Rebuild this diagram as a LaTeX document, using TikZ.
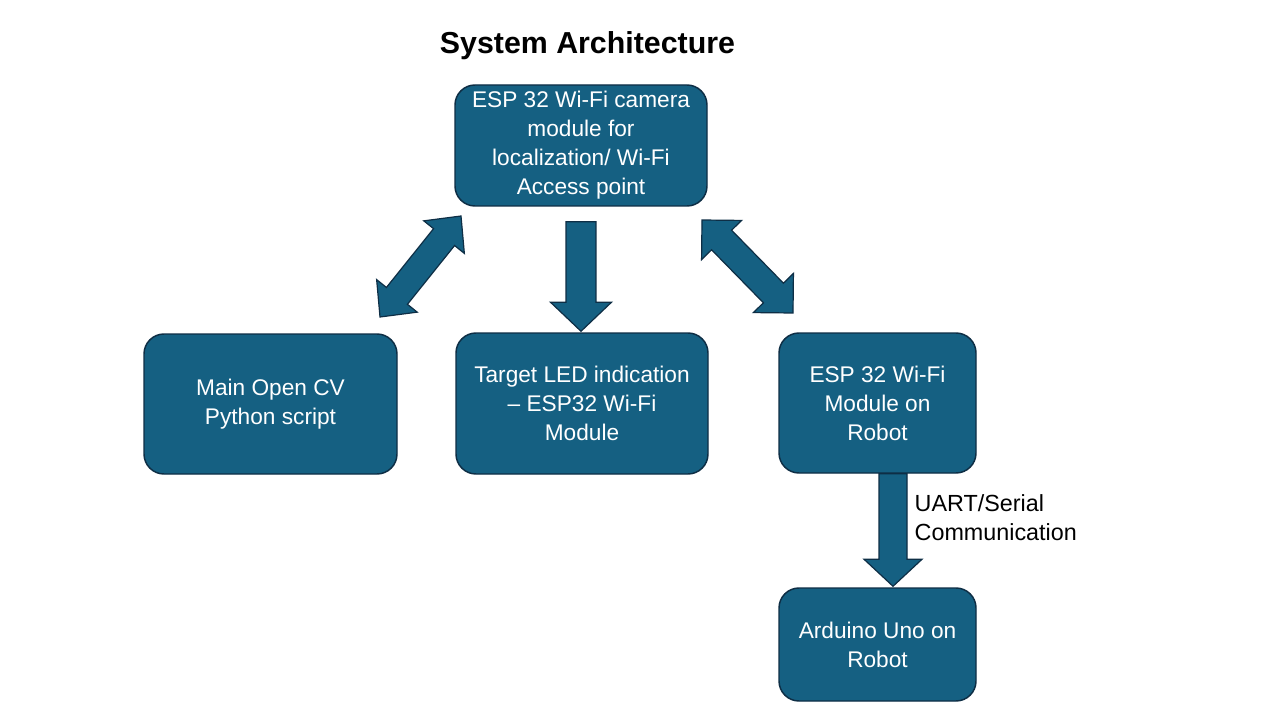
\documentclass[tikz,border=0pt]{standalone}
\usepackage{fontspec}
\setmainfont{Liberation Sans}
\usetikzlibrary{calc}
\definecolor{boxfill}{HTML}{156082}
\definecolor{boxline}{HTML}{0E2E45}
\tikzset{
  blk/.style={draw=boxline, line width=1.1pt, fill=boxfill, rounded corners=15pt,
    text=white, align=center, inner sep=0pt,
    font=\fontsize{17}{21.75}\selectfont},
  arr/.style={draw=boxline, line width=0.9pt, fill=boxfill, line join=miter},
}
\newcommand{\singlearrow}[5]{% tail, tip, w, hw, hl (in pt)
  \path[arr] ($(#1)!#3!90:(#2)$) -- ($($(#2)!#5!(#1)$)!#3!-90:(#1)$)
    -- ($($(#2)!#5!(#1)$)!#4!-90:(#1)$) -- (#2)
    -- ($($(#2)!#5!(#1)$)!#4!90:(#1)$) -- ($($(#2)!#5!(#1)$)!#3!90:(#1)$)
    -- ($(#1)!#3!-90:(#2)$) -- cycle;}
\newcommand{\doublearrow}[5]{% tip1, tip2, w, hw, hl
  \path[arr] (#1) -- ($($(#1)!#5!(#2)$)!#4!90:(#2)$) -- ($($(#1)!#5!(#2)$)!#3!90:(#2)$)
    -- ($($(#2)!#5!(#1)$)!#3!-90:(#1)$) -- ($($(#2)!#5!(#1)$)!#4!-90:(#1)$)
    -- (#2) -- ($($(#2)!#5!(#1)$)!#4!90:(#1)$) -- ($($(#2)!#5!(#1)$)!#3!90:(#1)$)
    -- ($($(#1)!#5!(#2)$)!#3!-90:(#2)$) -- ($($(#1)!#5!(#2)$)!#4!-90:(#2)$) -- cycle;}
\begin{document}
\begin{tikzpicture}[x=0.75pt,y=-0.75pt]
\useasboundingbox[fill=white] (0,0) rectangle (1280,720);

\node[font=\fontsize{22.75}{27}\selectfont\bfseries] (title) at (587.5,46) {System Architecture};

\node[blk, minimum width=189pt, minimum height=90.75pt] (cam) at (581,145.5)
  {ESP 32 Wi-Fi camera\\module for\\localization/ Wi-Fi\\Access point};
\node[blk, minimum width=189.75pt, minimum height=105pt] (cv) at (270.5,404)
  {Main Open CV\\Python script};
\node[blk, minimum width=189pt, minimum height=105.75pt] (led) at (582,403.5)
  {Target LED indication\\– ESP32 Wi-Fi\\Module};
\node[blk, minimum width=147.75pt, minimum height=105pt] (esp) at (877.5,403)
  {ESP 32 Wi-Fi\\Module on\\Robot};
\node[blk, minimum width=147.75pt, minimum height=84.75pt] (uno) at (877.5,644.5)
  {Arduino Uno on\\Robot};

\node[anchor=west, align=left, font=\fontsize{17.5}{21.75}\selectfont] (lbl) at (910,517.5)
  {UART/Serial\\Communication};

% arrow end points
\coordinate (a1) at (380,317);
\coordinate (a2) at (461,216);
\coordinate (b1) at (702,220);
\coordinate (b2) at (793,313);
\coordinate (c2) at ($(led.north)+(-1,-1)$);
\coordinate (c1) at ($(c2 |- cam.south)+(0,15)$);
\coordinate (d1) at ($(esp.south)+(15.5,0)$);
\coordinate (d2) at ($(uno.north)+(15.5,-1)$);

\doublearrow{a1}{a2}{10.1pt}{19.5pt}{20.3pt}
\doublearrow{b1}{b2}{10.5pt}{21pt}{21pt}
\singlearrow{c1}{c2}{11.2pt}{22.9pt}{21.8pt}
\singlearrow{d1}{d2}{10.5pt}{21.8pt}{20.3pt}
\end{tikzpicture}
\end{document}
